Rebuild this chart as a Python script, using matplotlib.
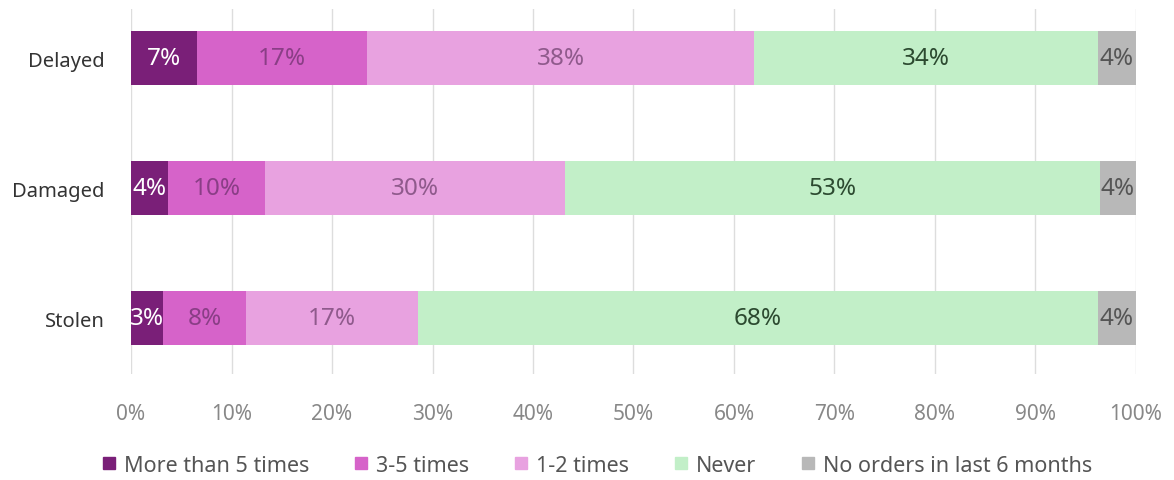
import numpy as np
import matplotlib.pyplot as plt
from matplotlib.lines import Line2D

# =====================================
# Data
# =====================================
categories = ['Delayed', 'Damaged', 'Stolen']
series_names = ['More than 5 times', '3-5 times', '1-2 times', 'Never',
                'No orders in last 6 months']

more_than_5 = [6.6, 3.7, 3.2]
three_to_5 = [16.9, 9.6, 8.2]
one_to_2 = [38.5, 29.9, 17.2]
never = [34.2, 53.2, 67.6]
no_orders = [3.8, 3.6, 3.8]

colors = ['#7a1f78', '#d663c9', '#e8a2e0', '#c2efc8', '#b8b8b8']
text_colors = ['#ffffff', '#8a3e86', '#8f5a8c', '#2c4a30', '#555555']

plt.rcParams['font.family'] = ['Noto Sans', 'DejaVu Sans']


def main():
    series = [more_than_5, three_to_5, one_to_2, never, no_orders]

    fig = plt.figure(figsize=(11.74, 4.81), dpi=100)
    ax = fig.add_axes([0.1116, 0.2204, 0.856, 0.7586])

    y = np.arange(len(categories))
    left = np.zeros(len(categories))
    for vals, name, col, tcol in zip(series, series_names, colors, text_colors):
        vals = np.array(vals)
        bars = ax.barh(y, vals, left=left, height=0.41, color=col,
                       label=name, zorder=3)
        labels = [f'{round(v):d}%' for v in vals]
        ax.bar_label(bars, labels=labels, label_type='center',
                     color=tcol, fontsize=17.5)
        left += vals

    ax.set_xlim(0, 100)
    ax.set_ylim(2.43, -0.377)
    ax.set_xticks(np.arange(0, 101, 10))
    ax.set_xticklabels([f'{t}%' for t in range(0, 101, 10)])
    ax.set_yticks(y)
    ax.set_yticklabels(categories)
    ax.tick_params(axis='x', length=0, pad=21, labelsize=15,
                   labelcolor='#888888')
    ax.tick_params(axis='y', length=0, pad=19, labelsize=14.5,
                   labelcolor='#333333')
    ax.grid(axis='x', color='#dddddd', lw=1, zorder=0)
    for s in ax.spines.values():
        s.set_visible(False)

    handles = [Line2D([], [], marker='s', ls='', markersize=9,
                      color=c) for c in colors]
    fig.legend(handles, series_names, loc='center', ncol=5,
               bbox_to_anchor=(0.508, 0.031), frameon=False,
               fontsize=15.5, handlelength=0.8, handletextpad=0.3,
               columnspacing=2.0, labelcolor='#555555')

    fig.savefig('out.png', dpi=100)


if __name__ == "__main__":
    main()
